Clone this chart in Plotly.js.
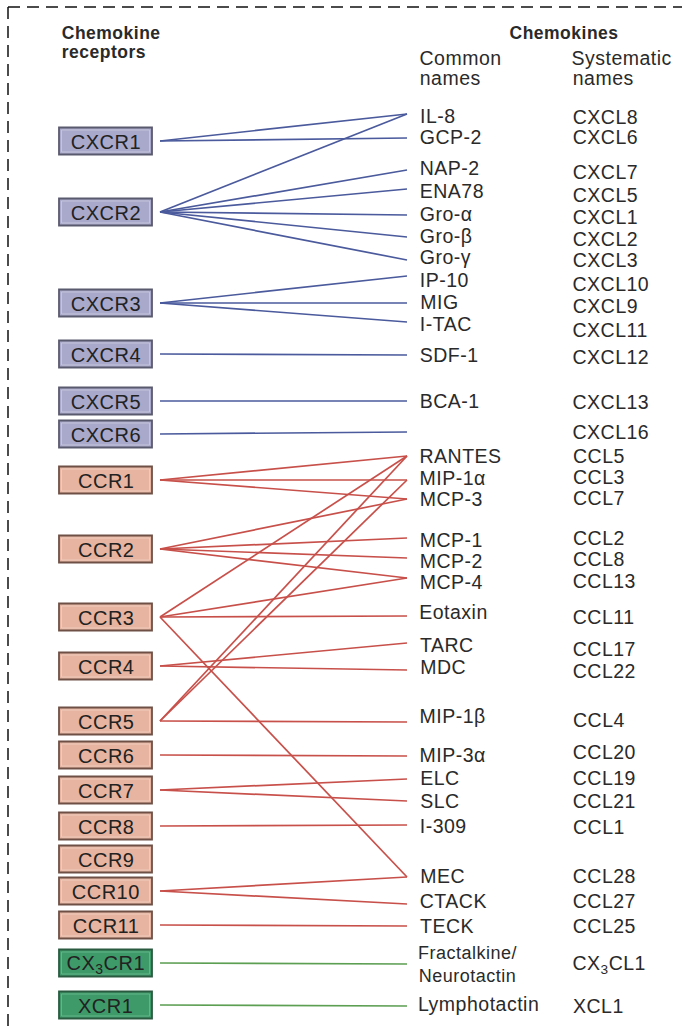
<!DOCTYPE html>
<html><head><meta charset="utf-8">
<script src="https://cdn.plot.ly/plotly-3.0.1.min.js"></script>
<style>html,body{margin:0;padding:0;background:#fff}#chart{width:682px;height:1028px}
#chart .annotation-text{letter-spacing:0.5px}</style>
</head><body><div id="chart"></div>
<script>
// ---- data ----
const receptors = ['CXCR1','CXCR2','CXCR3','CXCR4','CXCR5','CXCR6',
  'CCR1','CCR2','CCR3','CCR4','CCR5','CCR6','CCR7','CCR8','CCR9','CCR10','CCR11',
  'CX<sub>3</sub>CR1','XCR1'];
const receptorKeys = ['CXCR1','CXCR2','CXCR3','CXCR4','CXCR5','CXCR6',
  'CCR1','CCR2','CCR3','CCR4','CCR5','CCR6','CCR7','CCR8','CCR9','CCR10','CCR11',
  'CX3CR1','XCR1'];
const receptorFamily = ['CXC','CXC','CXC','CXC','CXC','CXC',
  'CC','CC','CC','CC','CC','CC','CC','CC','CC','CC','CC','CX3C','XC'];
const receptorRow = [141,212,303,354,401,434,480,549,617,666,721,755,790,826,859,891,925,963,1005];

const systematicNames = ['CXCL8','CXCL6','CXCL7','CXCL5','CXCL1','CXCL2','CXCL3','CXCL10','CXCL9','CXCL11','CXCL12','CXCL13','CXCL16',
  'CCL5','CCL3','CCL7','CCL2','CCL8','CCL13','CCL11','CCL17','CCL22','CCL4','CCL20','CCL19','CCL21','CCL1','CCL28','CCL27','CCL25',
  'CX<sub>3</sub>CL1','XCL1'];
const systematicKeys = ['CXCL8','CXCL6','CXCL7','CXCL5','CXCL1','CXCL2','CXCL3','CXCL10','CXCL9','CXCL11','CXCL12','CXCL13','CXCL16',
  'CCL5','CCL3','CCL7','CCL2','CCL8','CCL13','CCL11','CCL17','CCL22','CCL4','CCL20','CCL19','CCL21','CCL1','CCL28','CCL27','CCL25',
  'CX3CL1','XCL1'];
const commonNames = ['IL-8','GCP-2','NAP-2','ENA78','Gro-α','Gro-β','Gro-γ','IP-10','MIG','I-TAC','SDF-1','BCA-1','',
  'RANTES','MIP-1α','MCP-3','MCP-1','MCP-2','MCP-4','Eotaxin','TARC','MDC','MIP-1β','MIP-3α','ELC','SLC','I-309','MEC','CTACK','TECK',
  'Fractalkine/<br>Neurotactin','Lymphotactin'];
const chemokineRow = [114,138,170,189,215,237,260,276,303,322,355,401,432,
  456,480,499,538,558,578,616,643,670,722,756,779,801,825,877,904,926,964,1006];
const commonLabelRow = [116,137,168,191,214,236,257,280,302,324,355,401,432,
  456,478,499,540,561,582,612,645,667,716,755,778,801,826,876,901,926,964,1004];
const systematicLabelRow = [117,137,172,195,217,239,260,284,306,330,357,402,432,
  456,477,498,538,559,581,617,649,671,720,752,778,801,827,876,901,926,964,1006];

const linkReceptor = ['CXCR1','CXCR1',
  'CXCR2','CXCR2','CXCR2','CXCR2','CXCR2','CXCR2',
  'CXCR3','CXCR3','CXCR3','CXCR4','CXCR5','CXCR6',
  'CCR1','CCR1','CCR1',
  'CCR2','CCR2','CCR2','CCR2',
  'CCR3','CCR3','CCR3','CCR3',
  'CCR4','CCR4',
  'CCR5','CCR5','CCR5',
  'CCR6','CCR7','CCR7','CCR8','CCR10','CCR10','CCR11','CX3CR1','XCR1'];
const linkChemokine = ['CXCL8','CXCL6',
  'CXCL8','CXCL7','CXCL5','CXCL1','CXCL2','CXCL3',
  'CXCL10','CXCL9','CXCL11','CXCL12','CXCL13','CXCL16',
  'CCL5','CCL3','CCL7',
  'CCL7','CCL2','CCL8','CCL13',
  'CCL5','CCL13','CCL11','CCL28',
  'CCL17','CCL22',
  'CCL5','CCL3','CCL4',
  'CCL20','CCL19','CCL21','CCL1','CCL28','CCL27','CCL25','CX3CL1','XCL1'];

// ---- styles ----
const familyStyle = {
  CXC:  {fill:'#a9a9cb', inner:'#c4c4dc', border:'#5a5a6e', line:'#4a5a9c'},
  CC:   {fill:'#e6b4a0', inner:'#f0cbbb', border:'#6e5046', line:'#c8504a'},
  CX3C: {fill:'#3f9a6a', inner:'#63b487', border:'#2a5a40', line:'#5c9e52'},
  XC:   {fill:'#3f9a6a', inner:'#63b487', border:'#2a5a40', line:'#5c9e52'}
};
const FONT = '"Liberation Sans", Arial, Helvetica, sans-serif';
const TXT = '#2a2a2a';
const xLineStart = 160, xLineEnd = 407;
const boxX0 = 59, boxX1 = 152, boxH = 27;
const xCommon = 419, xSys = 572;

// ---- traces (links) ----
const groups = {};
linkReceptor.forEach((r, i) => {
  const ri = receptorKeys.indexOf(r);
  const ci = systematicKeys.indexOf(linkChemokine[i]);
  const fam = receptorFamily[ri] === 'XC' ? 'CX3C' : receptorFamily[ri];
  if (!groups[fam]) groups[fam] = {x: [], y: []};
  groups[fam].x.push(xLineStart, xLineEnd, null);
  groups[fam].y.push(receptorRow[ri], chemokineRow[ci], null);
});
const traces = Object.keys(groups).map(f => ({
  type: 'scatter', mode: 'lines', x: groups[f].x, y: groups[f].y,
  line: {color: familyStyle[f].line, width: 1.7}, hoverinfo: 'skip', showlegend: false
}));

// ---- shapes ----
const shapes = [];
receptorKeys.forEach((r, i) => {
  const st = familyStyle[receptorFamily[i]];
  shapes.push({type:'rect', xref:'x', yref:'y', x0:boxX0, x1:boxX1,
    y0:receptorRow[i]-boxH/2, y1:receptorRow[i]+boxH/2,
    fillcolor: st.fill, line:{color: st.border, width: 1.8}, layer:'above'});
  shapes.push({type:'rect', xref:'x', yref:'y', x0:boxX0+2.5, x1:boxX1-2.5,
    y0:receptorRow[i]-boxH/2+2.5, y1:receptorRow[i]+boxH/2-2.5,
    fillcolor: 'rgba(0,0,0,0)', line:{color: st.inner, width: 1}, layer:'above'});
});
// dashed frame
shapes.push({type:'line', xref:'x', yref:'y', x0:8, x1:682, y0:7, y1:7, line:{color:'#111', width:1.5, dash:'12px,7px'}});
shapes.push({type:'line', xref:'x', yref:'y', x0:8, x1:8, y0:7, y1:1028, line:{color:'#111', width:1.5, dash:'12px,7px'}});

// ---- annotations ----
const ann = [];
function txt(x, y, t, opts) {
  ann.push(Object.assign({xref:'x', yref:'y', x:x, y:y, text:t, showarrow:false,
    xanchor:'left', yanchor:'middle', font:{family:FONT, size:19.5, color:TXT}}, opts || {}));
}
receptors.forEach((r, i) => {
  txt((boxX0+boxX1)/2, receptorRow[i]+1, r, {xanchor:'center', font:{family:FONT, size:20, color:'#222'}});
});
commonNames.forEach((n, i) => {
  if (!n) return;
  txt(xCommon, commonLabelRow[i], n, {font:{family:FONT, size:n.indexOf('<br>')>=0?18:19.5, color:TXT}});
});
systematicNames.forEach((n, i) => {
  txt(xSys, systematicLabelRow[i], n);
});
// headers
txt(62, 33, '<b>Chemokine</b>', {font:{family:FONT, size:17.5, color:TXT}});
txt(62, 52, '<b>receptors</b>', {font:{family:FONT, size:17.5, color:TXT}});
txt(564, 33, '<b>Chemokines</b>', {xanchor:'center', font:{family:FONT, size:17.5, color:TXT}});
txt(xCommon, 58, 'Common');
txt(xCommon, 78, 'names');
txt(xSys, 58, 'Systematic');
txt(xSys, 78, 'names');

const layout = {
  width: 682, height: 1028,
  margin: {l:0, r:0, t:0, b:0, pad:0},
  paper_bgcolor: '#fff', plot_bgcolor: '#fff',
  xaxis: {range:[0,682], visible:false, fixedrange:true},
  yaxis: {range:[1028,0], visible:false, fixedrange:true},
  shapes: shapes, annotations: ann, showlegend: false
};
Plotly.newPlot('chart', traces, layout, {staticPlot:true, displayModeBar:false});
</script></body></html>
